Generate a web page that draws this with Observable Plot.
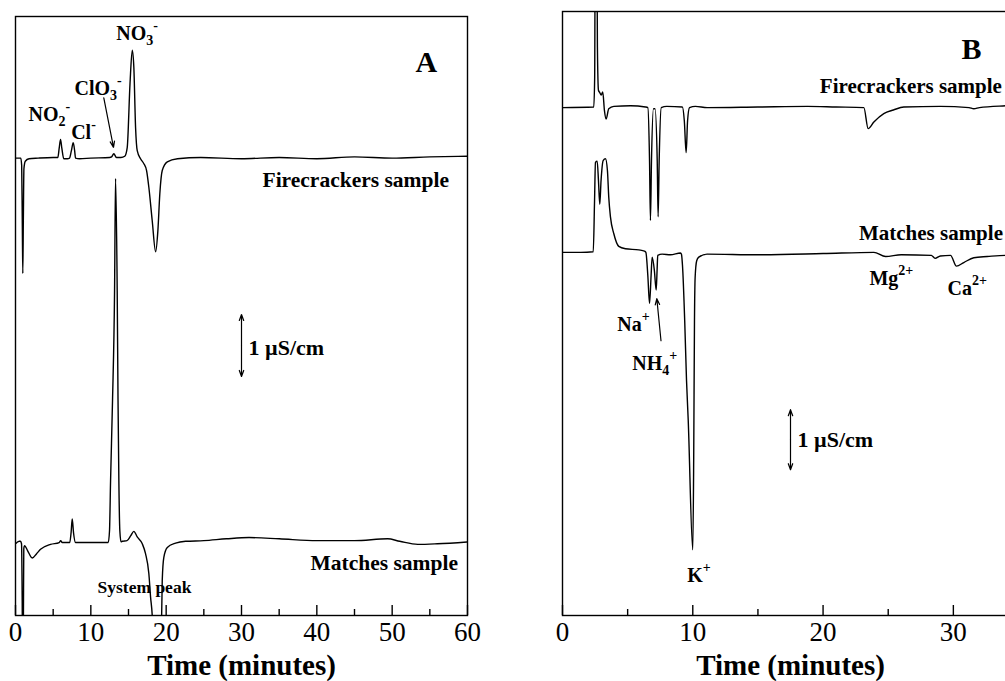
<!DOCTYPE html>
<html><head><meta charset="utf-8">
<script src="https://cdn.jsdelivr.net/npm/d3@7"></script>
<script src="https://cdn.jsdelivr.net/npm/@observablehq/plot@0.6"></script>
<style>
html,body{margin:0;padding:0;background:#fff;overflow:hidden;width:1005px;height:681px}
#a{position:absolute;left:0;top:0;width:500px;height:681px}
#b{position:absolute;left:520px;top:0;width:520px;height:681px}
svg{max-width:none !important}
</style></head><body><div id="a"></div><div id="b"></div>
<script>
// ---- data: [time (min), conductivity relative to trace baseline (µS/cm)] ----
const fireA = [[0,-0.01],[0.7,-0.01],[0.82,-0.13],[0.9,-1.02],[0.97,-1.87],[1.04,-1.02],[1.12,-0.18],[1.3,-0.06],[1.8,-0.02],[3,-0.01],[5,0],[5.62,0],[5.8,0.15],[5.98,0.29],[6.15,0.15],[6.41,-0.02],[6.9,-0.02],[7.17,-0.01],[7.42,0.11],[7.66,0.24],[7.85,0.11],[7.97,-0.01],[8.5,-0.02],[10,-0.01],[12.5,0],[12.75,0.01],[13.05,0.06],[13.4,0],[14,0],[14.5,0.02],[14.83,0.16],[15.2,1.19],[15.5,1.73],[15.71,1.45],[15.94,0.48],[16.16,0.11],[16.6,-0.02],[17.04,-0.1],[17.4,-0.21],[17.7,-0.48],[18.15,-1.02],[18.6,-1.52],[18.9,-1.18],[19.16,-0.58],[19.48,-0.21],[20.15,-0.07],[21.5,-0.02],[24.6,0],[30,-0.02],[35,0],[40,-0.02],[45,0.01],[50,-0.01],[55,0.01],[60,0.02]];
const matchA = [[0,-0.02],[0.5,0.02],[0.66,0.02],[0.8,-0.02],[0.89,-0.94],[0.97,-2.55],[1.05,-1.26],[1.1,-0.1],[1.2,-0.05],[1.6,-0.13],[2.22,-0.25],[2.8,-0.18],[3.32,-0.11],[4.65,-0.03],[5.8,0],[6.0,0.03],[6.2,0],[7.2,0],[7.38,0.16],[7.53,0.38],[7.7,0.16],[7.97,0],[10,0],[12.31,0],[12.48,0.19],[12.62,1.0],[12.88,2.29],[13.15,4.06],[13.28,5.87],[13.5,4.06],[13.61,2.29],[13.72,1.0],[13.85,0.19],[14.01,0.01],[14.17,0.02],[14.8,0.03],[15.3,0.11],[15.71,0.18],[16.16,0.09],[16.83,-0.02],[17.26,-0.18],[17.7,-0.5],[17.93,-0.88],[18.15,-1.18],[18.5,-2.55],[19.0,-2.87],[19.35,-1.58],[19.48,-0.61],[19.69,-0.24],[20.15,-0.08],[21.25,-0.01],[22.58,0.02],[25,0.03],[28,0.06],[31,0.08],[35,0.06],[40,0.03],[45,0.03],[49.4,0.06],[51,0.02],[53.4,-0.03],[56,-0.02],[60,0.01]];
const fireB = [[0,-0.01],[2.4,0],[2.47,0.5],[2.52,3.6],[2.62,3.6],[2.68,1.0],[2.76,0.28],[2.86,0.24],[2.97,0.2],[3.09,0.25],[3.22,-0.06],[3.35,-0.2],[3.55,-0.03],[3.94,0.01],[5.22,0.02],[6.37,0],[6.55,-0.01],[6.68,-0.89],[6.75,-1.89],[6.83,-0.89],[6.98,-0.03],[7.1,-0.03],[7.27,-0.89],[7.34,-1.83],[7.42,-0.89],[7.58,-0.01],[8,0.01],[9.2,0],[9.35,-0.23],[9.49,-0.76],[9.6,-0.23],[9.75,-0.01],[10.2,0.01],[11.1,-0.01],[15,0],[18.8,0.01],[21,0],[23.13,-0.01],[23.46,-0.36],[23.9,-0.25],[24.66,-0.11],[25.4,-0.05],[26.2,0],[29,0.01],[31.2,-0.01],[31.57,-0.03],[32,-0.01],[34,0.02],[35,0.03]];
const matchB = [[0,0.02],[1.4,0.02],[2.36,0.03],[2.46,0.88],[2.53,1.52],[2.66,1.54],[2.76,1.22],[2.86,0.82],[2.96,1.22],[3.12,1.55],[3.3,1.58],[3.45,1.38],[3.55,0.94],[3.68,0.61],[3.94,0.33],[4.32,0.12],[4.83,0.08],[5.86,0.06],[6.29,0.04],[6.4,0.02],[6.55,-0.37],[6.68,-0.83],[6.8,-0.37],[6.88,-0.06],[7.05,-0.28],[7.19,-0.61],[7.26,-0.28],[7.31,-0.03],[7.65,-0.01],[8.29,-0.02],[9.06,0.01],[9.13,-0.01],[9.21,-0.2],[9.38,-1.12],[9.52,-2.12],[9.65,-2.78],[10.0,-4.94],[10.07,-3.43],[10.13,-1.12],[10.18,-0.4],[10.3,-0.12],[10.46,-0.06],[11.1,-0.01],[15,-0.02],[20,0],[23.9,0.02],[24.8,-0.05],[26,-0.02],[28.3,-0.03],[28.6,-0.08],[29,-0.04],[29.78,-0.03],[30.24,-0.21],[30.8,-0.15],[31.57,-0.07],[32.6,-0.05],[34,-0.03],[35,-0.03]];

const majorA = [0,10,20,30,40,50,60];
const minorA = [5,15,25,35,45,55];
const majorB = [0,10,20,30];
const minorB = [5,15,25,35];
const ionsA = ["NO{_2}{^-}", "Cl{^-}", "ClO{_3}{^-}", "NO{_3}{^-}"];
const ionsB = ["Na{^+}", "NH{_4}{^+}", "K{^+}", "Mg{^2+}", "Ca{^2+}"];
const samples = ["Firecrackers sample", "Matches sample"];
const scaleText = "1 µS/cm";
const xTitle = "Time (minutes)";

// ---- layout ----
const FONT = "'Liberation Serif', 'Times New Roman', Times, serif";
const rowsOf = (series, offset) => series.map(([t, v]) => ({t, y: v + offset}));

function makePanel({width, ml, mr, mt, xMax, yMax, major, minor, traces, texts, arrows}) {
  const plotH = 681 - mt - 66;
  return Plot.plot({
    width, height: 681, marginLeft: ml, marginRight: mr, marginTop: mt, marginBottom: 66,
    x: {domain: [0, xMax], label: null},
    y: {domain: [0, yMax], axis: null, label: null},
    style: {fontFamily: FONT, background: "white", color: "black", overflow: "visible", maxWidth: "none"},
    marks: [
      ...traces.map(rows => Plot.line(rows, {x: "t", y: "y", curve: "monotone-x", stroke: "black", strokeWidth: 1.4, clip: true})),
      Plot.frame({stroke: "black", strokeWidth: 1.4}),
      Plot.ruleX(major, {insetTop: plotH - 10, stroke: "black", strokeWidth: 1.4}),
      Plot.ruleX(minor, {insetTop: plotH - 6, stroke: "black", strokeWidth: 1.4}),
      Plot.axisX({ticks: major, tickSize: 0, tickPadding: 6, fontSize: 27, label: null}),
      Plot.text([xTitle], {text: d => d, frameAnchor: "bottom", lineAnchor: "middle", dy: 50, fontSize: 29, fontWeight: "bold"}),
      ...texts.map(g => Plot.text(g.items, {x: "t", y: "u", text: "s", textAnchor: "start", lineAnchor: "middle", fontSize: g.size, fontWeight: "bold"})),
      Plot.arrow(arrows, {x1: "x1", y1: "y1", x2: "x2", y2: "y2", stroke: "black", strokeWidth: 1.2, headLength: 8, headAngle: 40})
    ]
  });
}

function rich(svg) {
  d3.select(svg).selectAll("text").each(function() {
    const s = this.textContent;
    if (!/\{[_^]/.test(s)) return;
    const el = d3.select(this); el.text(null);
    const re = /\{([_^])([^}]*)\}|([^{]+)/g; let m;
    while ((m = re.exec(s))) {
      if (m[3]) el.append("tspan").text(m[3]);
      else el.append("tspan").attr("baseline-shift", m[1] === "_" ? "-5px" : "10px").attr("font-size", "14px").text(m[2]);
    }
  });
  return svg;
}

const svgA = makePanel({
  width: 500, ml: 15, mr: 33, mt: 16, xMax: 60, yMax: 9.661, major: majorA, minor: minorA,
  traces: [rowsOf(fireA, 7.387), rowsOf(matchA, 1.177)],
  texts: [
    {size: 20, items: [{t:1.73,u:8.08,s:ionsA[0]},{t:7.39,u:7.79,s:ionsA[1]},{t:7.83,u:8.50,s:ionsA[2]},{t:13.37,u:9.39,s:ionsA[3]}]},
    {size: 21.5, items: [{t:32.79,u:7.02,s:samples[0]},{t:39.16,u:0.84,s:samples[1]}]},
    {size: 17.5, items: [{t:10.89,u:0.45,s:"System peak"}]},
    {size: 30, items: [{t:53.1,u:8.92,s:"A"}]},
    {size: 22, items: [{t:30.93,u:4.32,s:scaleText}]}
  ],
  arrows: [{x1:11.72,y1:8.35,x2:13.01,y2:7.55},{x1:30,y1:4.355,x2:30,y2:4.855},{x1:30,y1:4.355,x2:30,y2:3.855}]
});
const svgB = makePanel({
  width: 520, ml: 42, mr: 22, mt: 11, xMax: 35, yMax: 10.067, major: majorB, minor: minorB,
  traces: [rowsOf(fireB, 8.475), rowsOf(matchB, 6.033)],
  texts: [
    {size: 20, items: [{t:4.2,u:4.85,s:ionsB[0]},{t:5.35,u:4.2,s:ionsB[1]},{t:9.57,u:0.67,s:ionsB[2]},{t:23.56,u:5.62,s:ionsB[3]},{t:29.55,u:5.45,s:ionsB[4]}]},
    {size: 21, items: [{t:19.75,u:8.82,s:samples[0]},{t:22.75,u:6.37,s:samples[1]}]},
    {size: 30, items: [{t:30.62,u:9.43,s:"B"}]},
    {size: 22, items: [{t:18.04,u:2.93,s:scaleText}]}
  ],
  arrows: [{x1:7.56,y1:4.58,x2:7.24,y2:5.28},{x1:17.5,y1:2.93,x2:17.5,y2:3.43},{x1:17.5,y1:2.93,x2:17.5,y2:2.43}]
});
document.getElementById("a").appendChild(rich(svgA));
document.getElementById("b").appendChild(rich(svgB));
</script></body></html>
